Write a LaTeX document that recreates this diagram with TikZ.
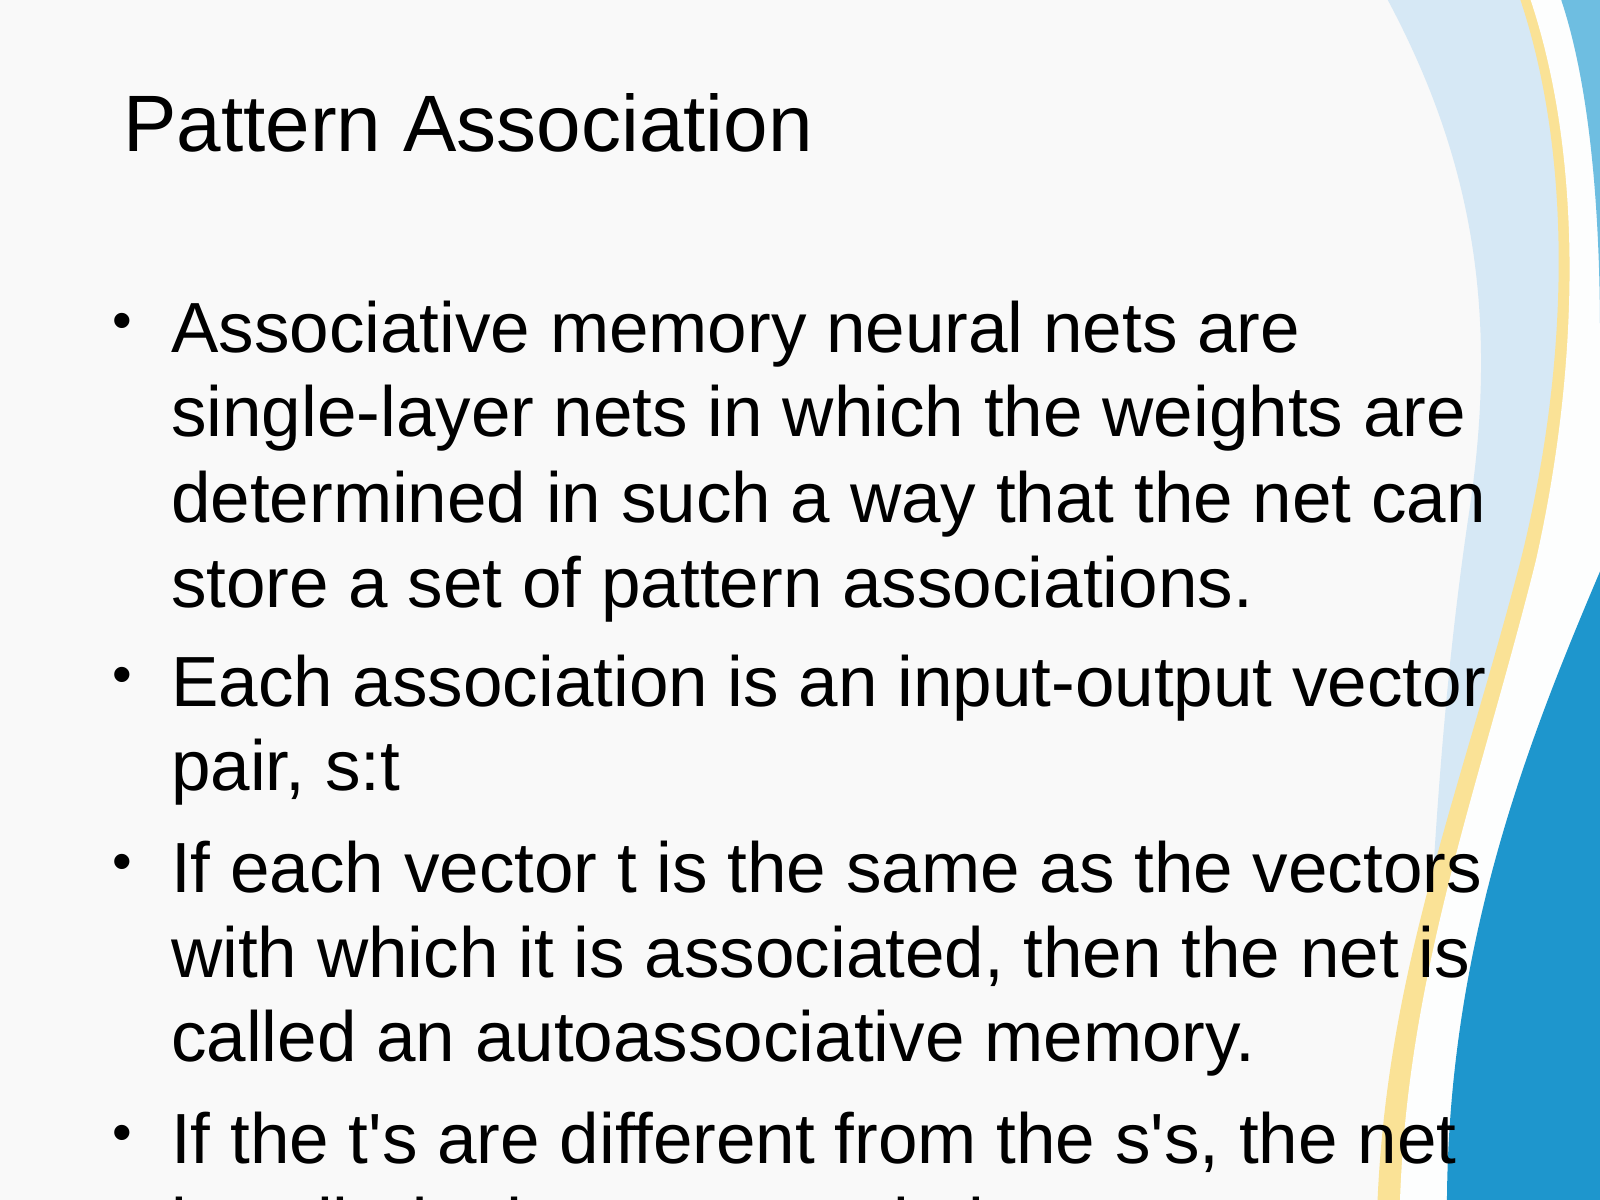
\documentclass[tikz,border=0pt]{standalone}
\usepackage{fontspec}
\setmainfont{Liberation Sans}[Ligatures=TeXOff]
\definecolor{paleblue}{RGB}{214,232,245}
\definecolor{paleyellow}{RGB}{250,226,150}
\definecolor{deepblue}{RGB}{30,150,205}
\definecolor{midblue}{RGB}{110,190,225}
\tikzset{every picture/.style={line width=0.75pt}}
\tikzset{
  slide text/.style={anchor=base west,inner sep=0pt,font=\fontsize{35.5}{42.3}\selectfont},
  bullet dot/.style={anchor=base west,inner sep=0pt,font=\fontsize{28}{34}\selectfont}
}
\begin{document}
\begin{tikzpicture}[x=0.51pt,y=0.51pt,yscale=-1]
\useasboundingbox (0,0) rectangle (1568,1176);
\clip (0,0) rectangle (1568,1176);
%Background
\fill[white!95!gray] (0,0) rectangle (1568,1176);
%Wave light blue
\fill[paleblue] (1360,0) .. controls (1440,150) and (1470,300) .. (1440,500) .. controls (1410,700) and (1400,900) .. (1390,1176) -- (1568,1176) -- (1568,0) -- cycle;
%Wave yellow
\fill[paleyellow] (1490,0) .. controls (1540,150) and (1540,350) .. (1490,550) .. controls (1430,780) and (1360,950) .. (1350,1176) -- (1568,1176) -- (1568,0) -- cycle;
\fill[white!96!paleblue] (1500,0) .. controls (1550,150) and (1550,350) .. (1505,550) .. controls (1450,770) and (1380,950) .. (1372,1176) -- (1568,1176) -- (1568,0) -- cycle;
\fill[midblue] (1530,0) .. controls (1570,120) and (1568,300) .. (1568,350) -- (1568,0) -- cycle;
%Wave deep blue
\fill[deepblue] (1568,560) .. controls (1500,720) and (1420,920) .. (1418,1176) -- (1568,1176) -- cycle;

% Title
\node[anchor=base west,inner sep=0pt,font=\fontsize{40}{48}\selectfont] (title) at (120,148) {Pattern Association};

% Bullets
\foreach \y [count=\i] in {345,692,875,1140}
  \node[bullet dot] (b\i) at (110,\y-12) {•};

% Lines
\foreach \y/\txt [count=\i] in {
  345/Associative memory neural nets are,
  428/single-layer nets in which the weights are,
  512/determined in such a way that the net can,
  595/store a set of pattern associations.,
  692/Each association is an input-output vector,
  775/{pair, s:t},
  875/If each vector t is the same as the vectors,
  958/{with which it is associated, then the net is},
  1040/called an autoassociative memory.,
  1140/{If the t's are different from the s's, the net},
  1224/is called a heteroassociative memory.}
  \node[slide text] (l\i) at (167,\y) {\txt};
\end{tikzpicture}
\end{document}
